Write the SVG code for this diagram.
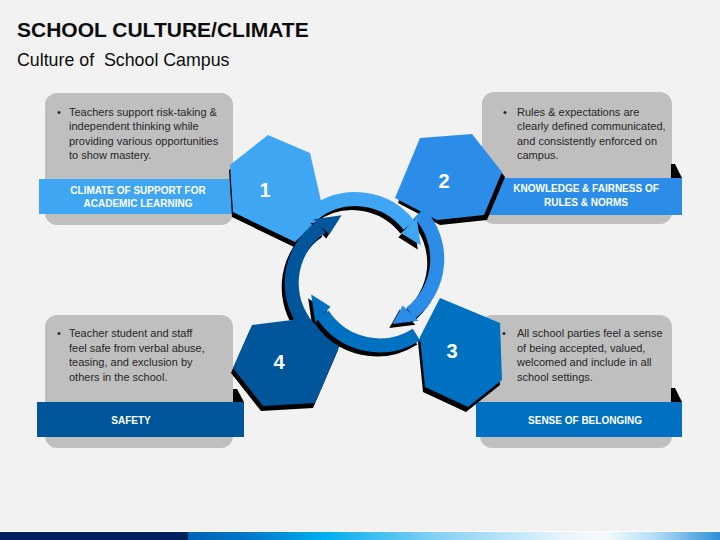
<svg xmlns="http://www.w3.org/2000/svg" width="720" height="540" viewBox="0 0 720 540">
<defs>
<style>
.box{fill:#bfbfbf}
.body{font-family:"Liberation Sans",Arial,sans-serif;font-size:11px;fill:#262626}
.bt{font-family:"Liberation Sans",Arial,sans-serif;font-size:10px;font-weight:bold;fill:#fff;text-anchor:middle}
.num{font-family:"Liberation Sans",Arial,sans-serif;font-size:20px;font-weight:bold;fill:#fff;text-anchor:middle}
.sh{fill:#000}
.c1{fill:#3fa6f4}.c2{fill:#2b8de8}.c3{fill:#0070c0}.c4{fill:#00559b}
.arc{fill:none;stroke-width:14}
</style>
<linearGradient id="bar" x1="0" y1="0" x2="1" y2="0">
<stop offset="0" stop-color="#002060"/>
<stop offset="0.26" stop-color="#002060"/>
<stop offset="0.262" stop-color="#0064b8"/>
<stop offset="0.34" stop-color="#0075c8"/>
<stop offset="0.45" stop-color="#00aeef"/>
<stop offset="0.6" stop-color="#7fd0f4"/>
<stop offset="0.78" stop-color="#e6f4fc"/>
<stop offset="0.84" stop-color="#f6fafd"/>
<stop offset="0.91" stop-color="#b2def6"/>
<stop offset="1" stop-color="#2e8fd8"/>
</linearGradient>
<mask id="m1" maskUnits="userSpaceOnUse" x="0" y="0" width="720" height="540"><rect width="720" height="540" fill="#fff"/><polygon fill="#000" points="268,135 310,153 324,214 295,242 233,212 230,165"/></mask>
<mask id="m2" maskUnits="userSpaceOnUse" x="0" y="0" width="720" height="540"><rect width="720" height="540" fill="#fff"/><polygon fill="#000" points="420,138 472,134 502,172 484,215 437,220 395,198"/></mask>
<mask id="m3" maskUnits="userSpaceOnUse" x="0" y="0" width="720" height="540"><rect width="720" height="540" fill="#fff"/><polygon fill="#000" points="440,298 500,323 502,380 468,407 425,387 420,337"/></mask>
<mask id="m4" maskUnits="userSpaceOnUse" x="0" y="0" width="720" height="540"><rect width="720" height="540" fill="#fff"/><polygon fill="#000" points="252,325 308,318 340,345 315,403 263,406 233,368"/></mask>
</defs>
<rect width="720" height="540" fill="#f2f2f2"/>
<text x="17" y="37" font-family="Liberation Sans, Arial, sans-serif" font-weight="bold" font-size="21" fill="#0d0d0d">SCHOOL CULTURE/CLIMATE</text>
<text x="17" y="66" font-family="Liberation Sans, Arial, sans-serif" font-size="17.8" fill="#0d0d0d" xml:space="preserve" style="white-space:pre">Culture of  School Campus</text>

<g id="node-1">
<rect class="box" x="45" y="93" width="188" height="132" rx="12"/>
<rect class="c1" x="39" y="179" width="240" height="35"/>
<polygon class="sh" transform="translate(-1,5)" points="268,135 310,153 324,214 295,242 233,212 230,165"/>
<polygon class="c1" points="268,135 310,153 324,214 295,242 233,212 230,165"/>
<text class="num" x="265" y="197">1</text>
<text class="body"><tspan x="57" y="115.5">•</tspan><tspan x="69" y="115.5">Teachers support risk-taking &amp;</tspan><tspan x="69" y="130">independent thinking while</tspan><tspan x="69" y="144.5">providing various opportunities</tspan><tspan x="69" y="159">to show mastery.</tspan></text>
<text class="bt" x="138" y="193.5">CLIMATE OF SUPPORT FOR</text>
<text class="bt" x="138" y="207">ACADEMIC LEARNING</text>
</g>

<g id="node-2">
<rect class="box" x="482" y="92" width="190" height="132" rx="12"/>
<polygon class="sh" points="671,164 675,164 682,178 671,178"/>
<rect class="c2" x="470" y="178" width="212" height="37"/>
<polygon class="sh" transform="translate(3,5)" points="420,138 472,134 502,172 484,215 437,220 395,198"/>
<polygon class="c2" points="420,138 472,134 502,172 484,215 437,220 395,198"/>
<text class="num" x="444" y="188">2</text>
<text class="body"><tspan x="503" y="115.5">•</tspan><tspan x="517" y="115.5">Rules &amp; expectations are</tspan><tspan x="517" y="130">clearly defined communicated,</tspan><tspan x="517" y="144.5">and consistently enforced on</tspan><tspan x="517" y="159">campus.</tspan></text>
<text class="bt" x="586" y="192">KNOWLEDGE &amp; FAIRNESS OF</text>
<text class="bt" x="586" y="206">RULES &amp; NORMS</text>
</g>

<g id="node-3">
<rect class="box" x="480" y="315" width="192" height="133" rx="12"/>
<polygon class="sh" points="671,388 675,388 682,402 671,402"/>
<rect class="c3" x="476" y="402" width="206" height="35"/>
<polygon class="sh" transform="translate(-2,5)" points="440,298 500,323 502,380 468,407 425,387 420,337"/>
<polygon class="c3" points="440,298 500,323 502,380 468,407 425,387 420,337"/>
<text class="num" x="452" y="358">3</text>
<text class="body"><tspan x="502" y="337">•</tspan><tspan x="517" y="337">All school parties feel a sense</tspan><tspan x="517" y="351.5">of being accepted, valued,</tspan><tspan x="517" y="366">welcomed and include in all</tspan><tspan x="517" y="380.5">school settings.</tspan></text>
<text class="bt" x="585" y="423.5">SENSE OF BELONGING</text>
</g>

<g id="node-4">
<rect class="box" x="45" y="315" width="188" height="133" rx="12"/>
<polygon class="sh" points="233,389 237,389 244,402 233,402"/>
<rect class="c4" x="37" y="402" width="207" height="35"/>
<polygon class="sh" transform="translate(-2,5)" points="252,325 308,318 340,345 315,403 263,406 233,368"/>
<polygon class="c4" points="252,325 308,318 340,345 315,403 263,406 233,368"/>
<text class="num" x="279" y="369">4</text>
<text class="body"><tspan x="57" y="337">•</tspan><tspan x="69" y="337">Teacher student and staff</tspan><tspan x="69" y="351.5">feel safe from verbal abuse,</tspan><tspan x="69" y="366">teasing, and exclusion by</tspan><tspan x="69" y="380.5">others in the school.</tspan></text>
<text class="bt" x="131" y="423.5">SAFETY</text>
</g>

<g id="connectors">
<g id="arc-bottom">
<g mask="url(#m3)"><g transform="translate(-3,4)"><path class="arc" stroke="#000" d="M416.5 334.6 A68 68 0 0 1 322.9 314.6"/><polygon fill="#000" points="330.6,306.7 315.3,322.5 311.2,294.4"/></g></g>
<path class="arc" stroke="#0070c0" d="M416.5 334.6 A68 68 0 0 1 322.9 314.6"/><polygon class="c3" points="330.6,306.7 315.3,322.5 311.2,294.4"/>
</g>
<g id="arc-right">
<g mask="url(#m2)"><g transform="translate(-3,4)"><path class="arc" stroke="#000" d="M419.2 213 A68 68 0 0 1 410.6 313.1"/><polygon fill="#000" points="402.7,305.4 418.5,320.7 392.3,323.9"/></g></g>
<path class="arc" stroke="#2b8de8" d="M419.2 213 A68 68 0 0 1 410.6 313.1"/><polygon class="c2" points="402.7,305.4 418.5,320.7 392.3,323.9"/>
</g>
<g id="arc-top">
<g mask="url(#m1)"><g transform="translate(-3,4)"><path class="arc" stroke="#000" d="M314.5 212.8 A68 68 0 0 1 409.1 225.4"/><polygon fill="#000" points="401.4,233.3 416.7,217.5 420.8,245.6"/></g></g>
<path class="arc" stroke="#3fa6f4" d="M314.5 212.8 A68 68 0 0 1 409.1 225.4"/><polygon class="c1" points="401.4,233.3 416.7,217.5 420.8,245.6"/>
</g>
<g id="arc-left">
<g mask="url(#m4)"><g transform="translate(-3,4)"><path class="arc" stroke="#000" d="M313.3 332.8 A68 68 0 0 1 321.4 226.9"/><polygon fill="#000" points="329.3,234.6 313.5,219.3 341.6,215.2"/></g></g>
<path class="arc" stroke="#00559b" d="M313.3 332.8 A68 68 0 0 1 321.4 226.9"/><polygon class="c4" points="329.3,234.6 313.5,219.3 341.6,215.2"/>
</g>
</g>

<rect x="0" y="531" width="720" height="1" fill="#ffffff"/>
<rect x="0" y="532" width="720" height="8" fill="url(#bar)"/>
</svg>
